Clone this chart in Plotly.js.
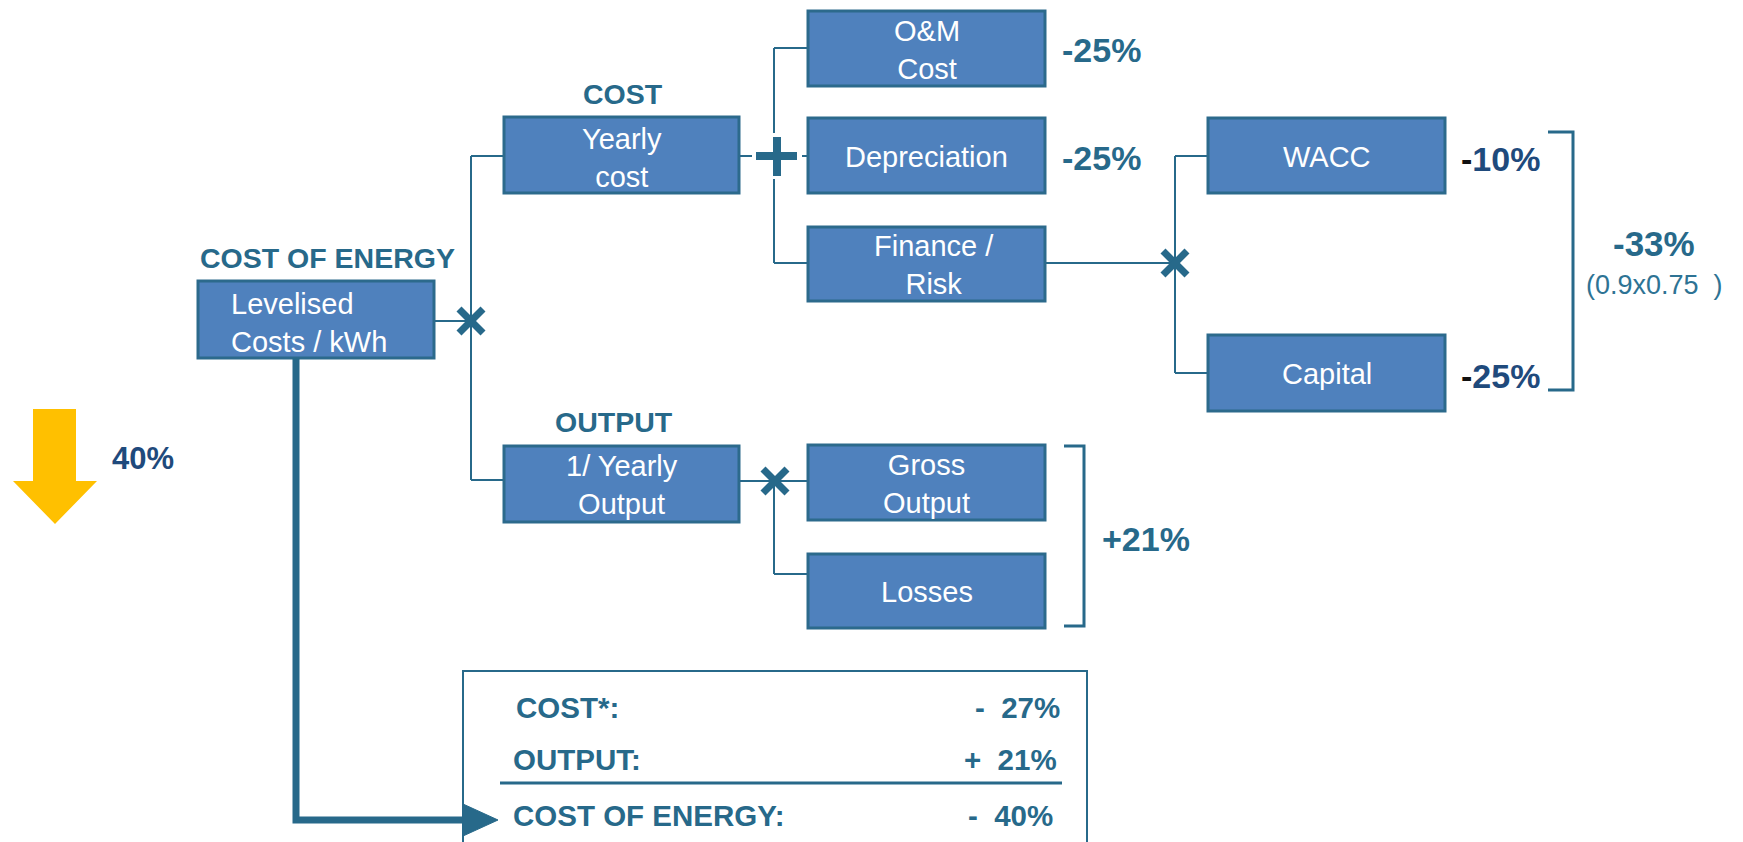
<!DOCTYPE html>
<html>
<head>
<meta charset="utf-8">
<script src="https://cdn.plot.ly/plotly-3.0.1.min.js"></script>
<style>html,body{margin:0;padding:0;background:#fff;}#chart{width:1743px;height:842px;}</style>
</head>
<body>
<div id="chart"></div>
<script>
// ---------- content (text & values) ----------
const boxLabels = ["Levelised<br>Costs / kWh", "Yearly<br>cost", "1/ Yearly<br>Output", "O&M<br>Cost",
                   "Depreciation", "Finance /<br>Risk", "WACC", "Capital", "Gross<br>Output", "Losses"];
const headerLabels = ["COST OF ENERGY", "COST", "OUTPUT"];
const driverChanges = ["-25%", "-25%", "-10%", "-25%"];          // O&M, Depreciation, WACC, Capital
const groupChanges = ["-33%", "+21%"];                           // Finance group, Output group
const groupNote = "(0.9x0.75  )";
const headline = "40%";
const summaryLabels = ["COST*:", "OUTPUT:", "COST OF ENERGY:"];
const summaryValues = ["-  27%", "+  21%", "-  40%"];

// ---------- layout geometry (pixel space of the diagram) ----------
const boxX0 = [198, 504, 504, 808, 808, 808, 1208, 1208, 808, 808];
const boxX1 = [434, 739, 739, 1045, 1045, 1045, 1445, 1445, 1045, 1045];
const boxY0 = [281, 117, 446, 11, 118, 227, 118, 335, 445, 554];
const boxY1 = [358, 193, 522, 86, 193, 301, 193, 411, 520, 628];
const headerX = [327, 623, 614];
const headerY = [258, 94, 422];
const driverX = [1101, 1101, 1500, 1500];
const driverY = [50, 158, 159, 376];
const groupX = [1654, 1146];
const groupY = [243, 539];

const TEAL = "#27698A";
const NAVY = "#1F4A7C";
const BOXFILL = "#4F81BD";
const FONT = "'Liberation Sans', Arial, Helvetica, sans-serif";

const shapes = [];
const annotations = [];

function line(x0, y0, x1, y1, w, c) {
  shapes.push({type: "line", xref: "x", yref: "y", x0: x0, y0: y0, x1: x1, y1: y1,
               line: {color: c || TEAL, width: w || 2}});
}
function path(p, w, fill, c) {
  shapes.push({type: "path", xref: "x", yref: "y", path: p,
               fillcolor: fill || "rgba(0,0,0,0)",
               line: {color: c || TEAL, width: w}});
}
function cross(cx, cy, r, w) {
  line(cx - r, cy - r, cx + r, cy + r, w);
  line(cx - r, cy + r, cx + r, cy - r, w);
}

// connectors
line(434, 321, 471, 321);
line(471, 156, 471, 480);
line(471, 156, 504, 156);
line(471, 480, 504, 480);
line(739, 156, 752, 156);
line(802, 156, 808, 156);
line(774, 48, 774, 133);
line(774, 179, 774, 263);
line(774, 48, 808, 48);
line(774, 263, 808, 263);
line(1045, 263, 1175, 263);
line(1175, 156, 1175, 373);
line(1175, 156, 1208, 156);
line(1175, 373, 1208, 373);
line(739, 481, 808, 481);
line(774, 481, 774, 574);
line(774, 574, 808, 574);

// boxes
for (let i = 0; i < boxLabels.length; i++) {
  shapes.push({type: "rect", xref: "x", yref: "y", x0: boxX0[i], x1: boxX1[i], y0: boxY0[i], y1: boxY1[i],
               fillcolor: BOXFILL, line: {color: "#2C6A8C", width: 3}});
}

// operators
line(756, 156, 797, 156, 8);
line(777, 137, 777, 176, 8);
cross(471, 321, 12, 7);
cross(1175, 263, 12, 7);
cross(775, 481, 12, 7);

// brackets
path("M1548,132 L1573,132 L1573,390 L1548,390", 3);
path("M1064,446 L1084,446 L1084,626 L1064,626", 3);

// summary box & thick arrow
shapes.push({type: "rect", xref: "x", yref: "y", x0: 463, x1: 1087, y0: 671, y1: 880,
             fillcolor: "rgba(0,0,0,0)", line: {color: TEAL, width: 2}});
line(500, 783, 1062, 783, 3);
path("M296,358 L296,820 L463,820", 7);
path("M463,804 L498,820 L463,836 Z", 1, TEAL);

// yellow arrow
path("M33,409 L76,409 L76,481 L97,481 L55,524 L13,481 L33,481 Z", 0, "#FFC000", "#FFC000");

// ---------- text ----------
function ann(text, x, y, size, color, bold, xanchor, align) {
  annotations.push({text: bold ? "<b>" + text + "</b>" : text, x: x, y: y, xref: "x", yref: "y",
                    showarrow: false, xanchor: xanchor || "center", yanchor: "middle",
                    align: align || "center",
                    font: {family: FONT, size: size, color: color}});
}

for (let i = 0; i < boxLabels.length; i++) {
  const cy = (boxY0[i] + boxY1[i]) / 2 + 1;
  if (i === 0) {
    ann(boxLabels[i], 229, cy + 2, 29, "#FFFFFF", false, "left", "left");
  } else {
    const cx = (boxX0[i] + boxX1[i]) / 2 + (i === 5 ? 7 : 0);
    ann(boxLabels[i], cx, cy + (i === 1 ? 2 : 0), 29, "#FFFFFF", false);
  }
}
for (let i = 0; i < headerLabels.length; i++) {
  ann(headerLabels[i], headerX[i], headerY[i], 28.5, TEAL, true);
}
for (let i = 0; i < driverChanges.length; i++) {
  if (i < 2) {
    ann(driverChanges[i], driverX[i], driverY[i], 34, TEAL, true);
  } else {
    const v = driverChanges[i];
    ann("<span style='color:#111111'>" + v.charAt(0) + "</span>" + v.slice(1), driverX[i], driverY[i], 34, NAVY, true);
  }
}
ann(groupChanges[0], groupX[0], groupY[0], 35, TEAL, true);
ann(groupNote, 1654, 285, 27, "#2E7394", false);
ann(groupChanges[1], groupX[1], groupY[1], 34, TEAL, true);
ann(headline, 143, 458, 31, NAVY, true);

const sumY = [707, 759, 815];
const sumLX = [514, 511, 511];
const sumRX = [1062, 1059, 1055];
for (let i = 0; i < summaryLabels.length; i++) {
  ann(summaryLabels[i], sumLX[i], sumY[i], 29.5, TEAL, true, "left", "left");
  ann(summaryValues[i], sumRX[i], sumY[i], 29.5, TEAL, true, "right", "right");
}

const layout = {
  width: 1743, height: 842,
  margin: {l: 0, r: 0, t: 0, b: 0},
  paper_bgcolor: "#FFFFFF", plot_bgcolor: "#FFFFFF",
  showlegend: false,
  xaxis: {range: [0, 1743], visible: false, fixedrange: true},
  yaxis: {range: [842, 0], visible: false, fixedrange: true},
  shapes: shapes,
  annotations: annotations
};

Plotly.newPlot("chart", [{x: [], y: [], type: "scatter", mode: "markers", hoverinfo: "skip"}], layout,
               {staticPlot: true, displayModeBar: false});
</script>
</body>
</html>
